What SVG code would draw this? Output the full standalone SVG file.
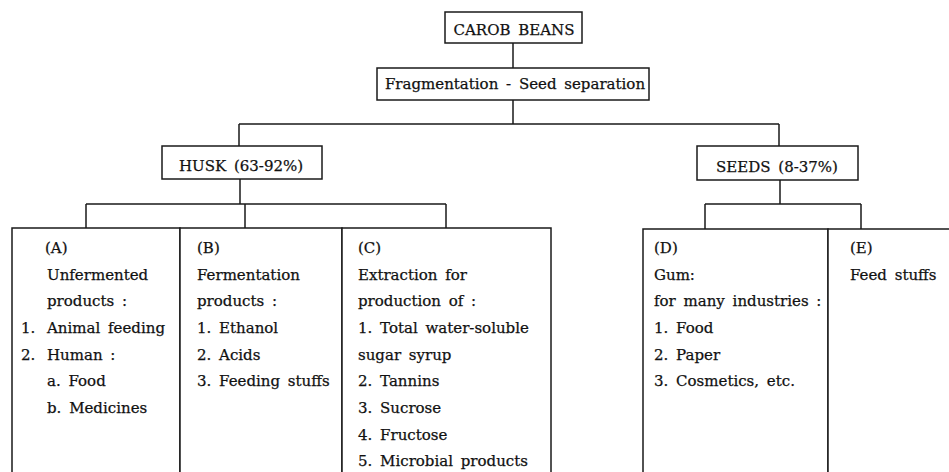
<svg xmlns="http://www.w3.org/2000/svg" width="949" height="472" viewBox="0 0 949 472">
<style>
.bx{fill:#fff;stroke:#1a1a1a;stroke-width:1.5}
.ln{fill:none;stroke:#1a1a1a;stroke-width:1.5}
text{font-family:"DejaVu Serif","Liberation Serif",serif;font-size:15px;fill:#111;stroke:#111;stroke-width:0.25;word-spacing:3px}
</style>
<rect x="0" y="0" width="949" height="472" fill="#fff"/>
<g id="connectors" class="ln">
<path d="M513 43V68"/>
<path d="M513 100V124M239 124H779M239 124V146M779 124V146"/>
<path d="M240 179V204M86 204H446M86 204V228M245 204V228M446 204V228"/>
<path d="M780 180V204M705 204H861M705 204V229M861 204V229"/>
</g>
<g id="carob"><rect class="bx" x="445" y="12" width="137" height="31"/><text x="514" y="35" text-anchor="middle">CAROB BEANS</text></g>
<g id="frag"><rect class="bx" x="377" y="68" width="272" height="32"/><text x="515" y="89" text-anchor="middle">Fragmentation - Seed separation</text></g>
<g id="husk"><rect class="bx" x="162" y="146" width="160" height="33"/><text x="241" y="171" text-anchor="middle">HUSK (63-92%)</text></g>
<g id="seeds"><rect class="bx" x="697" y="146" width="161" height="34"/><text x="777" y="172" text-anchor="middle">SEEDS (8-37%)</text></g>
<g id="boxA"><rect class="bx" x="12" y="228" width="168" height="260"/>
<text x="45" y="253">(A)</text><text x="47" y="280">Unfermented</text><text x="47" y="306">products :</text>
<text x="21" y="333">1.</text><text x="47" y="333">Animal feeding</text>
<text x="21" y="360">2.</text><text x="47" y="360">Human :</text>
<text x="47" y="386">a. Food</text><text x="47" y="413">b. Medicines</text></g>
<g id="boxB"><rect class="bx" x="180" y="228" width="162" height="260"/>
<text x="197" y="253">(B)</text><text x="197" y="280">Fermentation</text><text x="197" y="306">products :</text>
<text x="197" y="333">1. Ethanol</text><text x="197" y="360">2. Acids</text><text x="197" y="386">3. Feeding stuffs</text></g>
<g id="boxC"><rect class="bx" x="342" y="228" width="209" height="260"/>
<text x="358" y="253">(C)</text><text x="358" y="280">Extraction for</text><text x="358" y="306">production of :</text>
<text x="358" y="333">1. Total water-soluble</text><text x="358" y="360">sugar syrup</text><text x="358" y="386">2. Tannins</text>
<text x="358" y="413">3. Sucrose</text><text x="358" y="440">4. Fructose</text><text x="358" y="466">5. Microbial products</text></g>
<g id="boxD"><rect class="bx" x="643" y="229" width="185" height="260"/>
<text x="654" y="253">(D)</text><text x="654" y="280">Gum:</text><text x="654" y="306">for many industries :</text>
<text x="654" y="333">1. Food</text><text x="654" y="360">2. Paper</text><text x="654" y="386">3. Cosmetics, etc.</text></g>
<g id="boxE"><rect class="bx" x="828" y="229" width="140" height="260"/>
<text x="850" y="253">(E)</text><text x="850" y="280">Feed stuffs</text></g>
</svg>
